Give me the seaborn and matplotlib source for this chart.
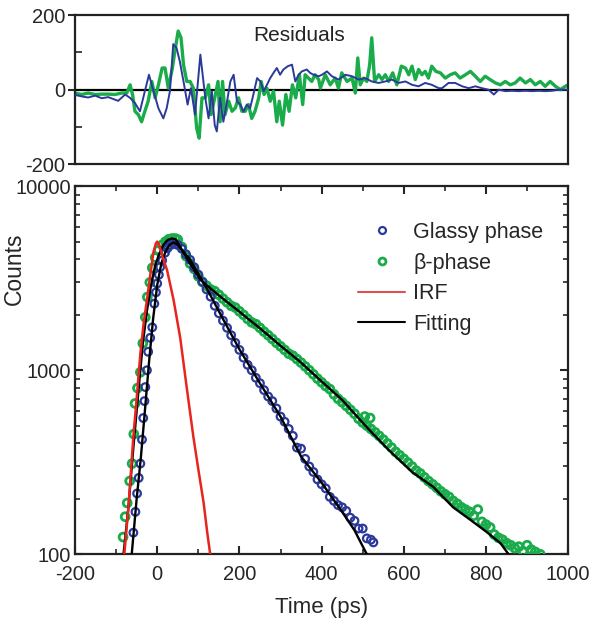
import matplotlib
matplotlib.use("Agg")
import matplotlib.pyplot as plt
from matplotlib.lines import Line2D
import seaborn as sns
import numpy as np
import pandas as pd

# residuals
res_blue_t = [-200, -184, -168, -151, -135, -119, -95, -78, -66, -54, -42, -30, -20, -9, 3, 15, 23, 31,
              39, 47, 55, 64, 74, 82, 92, 105, 117, 125, 133, 140, 145, 153, 161, 170, 178, 186, 194,
              202, 210, 218, 226, 234, 243, 251, 259, 267, 275, 283, 291, 299, 307, 318, 328, 336,
              344, 352, 364, 372, 380, 393, 401, 413, 425, 441, 458, 474, 490, 506, 522, 539, 555,
              571, 587, 604, 620, 636, 652, 668, 685, 693, 709, 725, 742, 758, 774, 790, 806, 819,
              831, 847, 863, 879, 896, 912, 928, 944, 960, 977, 1000]
res_blue = [-14, -18, -21, -16, -23, -20, -30, -13, -22, -36, -58, -4, 40, -4, -50, -77, -50, -4,
            122, 112, 76, 22, -40, 4, -67, 94, -22, -77, -4, -95, -112, -22, -86, -31, 22, 40, -31,
            -40, -58, -40, -50, -13, 31, 22, -4, 13, 31, 45, 58, 40, 54, 63, 67, 22,
            40, 49, 54, 45, 40, 36, 40, 49, 36, 27, 40, 36, 27, 31, 22, 18, 22,
            27, 18, 22, 13, 9, 18, 13, 4, 4, 18, 18, 9, 4, 9, 4, 0, -13,
            0, -4, -3, -4, -3, -4, -3, -4, -3, 0, 0]

res_green_t = [-200, -184, -168, -151, -135, -119, -103, -86, -74, -66, -60, -54, -46, -38, -30, -22,
               -13, -5, 3, 12, 19, 27, 37, 43, 51, 58, 64, 72, 80, 88, 96, 102, 109, 117, 125, 131,
               140, 148, 153, 159, 165, 174, 182, 190, 198, 206, 214, 222, 230, 238, 247, 253, 260,
               267, 275, 283, 291, 297, 305, 313, 321, 329, 337, 346, 354, 360, 368, 376, 384, 393,
               397, 409, 421, 433, 441, 449, 462, 474, 482, 488, 494, 502, 510, 517, 522, 529, 539,
               547, 555, 563, 573, 583, 594, 604, 612, 620, 628, 636, 644, 652, 660, 668, 678, 689,
               701, 713, 725, 737, 750, 762, 774, 786, 798, 810, 823, 835, 847, 859, 871, 883, 896,
               908, 920, 932, 944, 956, 969, 981, 993, 1000]
res_green = [-9, -13, -9, -13, -12, -12, -13, -9, -9, 13, -13, -58, -67, -86, -58, -31,
             22, -22, 13, 58, 58, 4, 58, 103, 157, 139, 67, 22, 22, 4, -103, -130, -22, -22, 13, -67,
             -22, 22, -86, 22, -67, -31, -58, -49, -22, -58, -58, -40, -77, -58, -22, 22, -13,
             4, -31, -4, -86, -31, -95, -13, -58, 13, -22, 40, -40, 40, 31, 22, 40, 27,
             4, 40, 13, 31, 4, 45, 22, 31, -9, 85, 13, 31, 22, 67, 139, 22, 40,
             27, 40, 22, 45, 13, 63, 58, 40, 63, 27, 54, 40, 49, 31, 63, 49, 45,
             31, 40, 45, 31, 40, 49, 36, 22, 36, 27, 18, 13, 22, 13, 18, 31, 18,
             27, 13, 22, 9, 22, 9, 0, 9, 13]

# decay data (bottom panel)
glassy_t = [-58, -53, -49, -45, -41, -37, -34, -31, -29, -25, -22, -17, -12, -7, -3, 0, 4, 7, 12, 19,
            25, 32, 38, 44, 50, 60, 70, 80, 90, 100, 110, 120, 130, 140, 150, 160, 170, 180, 190,
            200, 210, 220, 230, 240, 250, 260, 270, 280, 290, 300, 310, 320, 330, 340, 350, 360,
            370, 380, 390, 400, 410, 420, 430, 440, 450, 460, 470, 480, 490, 500, 510, 520, 526]
glassy = [131, 170, 214, 260, 311, 420, 550, 680, 810, 1000, 1260, 1500, 1710, 2300, 2650, 2960, 3300,
          3630, 3950, 4350, 4600, 4780, 4900, 4850, 4790, 4570, 4270, 3980, 3630, 3310, 3020, 2750,
          2510, 2240, 2040, 1860, 1700, 1550, 1410, 1290, 1170, 1070, 1000, 910, 850, 780, 720, 680,
          620, 560, 525, 480, 440, 380, 375, 330, 300, 280, 255, 240, 228, 205, 195, 185, 180, 172,
          158, 152, 138, 138, 122, 120, 116]

beta_t = [-83, -78, -73, -67, -61, -57, -54, -48, -41, -35, -29, -24, -18, -12, -5, 3, 12, 20, 28, 36,
          44, 50, 60, 70, 80, 90, 100, 110, 120, 130, 140, 150, 160, 170, 180, 190, 200, 210, 220,
          230, 240, 250, 260, 270, 280, 290, 300, 310, 320, 330, 340, 350, 360, 370, 380, 390, 400,
          410, 420, 430, 440, 450, 460, 470, 480, 490, 500, 505, 510, 518, 520, 530, 540, 550, 560,
          570, 580, 590, 600, 610, 620, 630, 640, 650, 660, 670, 680, 690, 700, 710, 720, 730, 740,
          750, 760, 770, 780, 790, 800, 810, 820, 830, 840, 850, 860, 870, 880, 890, 900, 910, 920,
          932]
beta = [124, 160, 190, 250, 311, 450, 660, 800, 975, 1400, 1940, 2500, 3000, 3600, 4100, 4500, 4800,
        5000, 5150, 5200, 5200, 5130, 4680, 4170, 3800, 3550, 3240, 3020, 2880, 2750, 2690, 2570,
        2450, 2340, 2240, 2190, 2090, 2000, 1900, 1820, 1780, 1700, 1620, 1550, 1480, 1410, 1350,
        1290, 1230, 1200, 1150, 1100, 1050, 1000, 950, 900, 860, 820, 790, 740, 700, 670, 640, 610,
        580, 545, 520, 560, 500, 550, 480, 460, 440, 420, 400, 380, 360, 345, 330, 315, 300, 285,
        275, 262, 250, 240, 230, 220, 212, 205, 195, 188, 180, 175, 170, 162, 175, 150, 145, 140,
        128, 123, 120, 115, 112, 108, 110, 104, 112, 106, 103, 100]

irf_t = [-85, -80, -70, -58, -50, -41, -33, -24, -16, -9, -3, 0, 5, 12, 24, 40, 56, 72, 88, 100, 113,
         122, 129, 135]
irf = [85, 100, 180, 437, 700, 1230, 1800, 2500, 3400, 4400, 4900, 5000, 4800, 4200, 3500, 2400, 1500,
       800, 435, 290, 190, 130, 100, 85]

fit_glassy_t = [-66, -62, -50, -40, -30, -20, -10, 0, 10, 20, 30, 40, 50, 80, 120, 160, 200, 250, 300,
                350, 400, 450, 480, 510, 520]
fit_glassy = [85, 100, 200, 330, 600, 1100, 1900, 2900, 3800, 4400, 4800, 4950, 4800, 4000, 2800,
              1900, 1300, 850, 560, 340, 245, 170, 135, 100, 92]

fit_beta_t = [-88, -82, -70, -58, -45, -35, -25, -15, -5, 5, 15, 25, 35, 45, 60, 80, 105, 150, 200,
              250, 300, 348, 400, 450, 510, 560, 620, 672, 720, 760, 800, 835, 855, 865]
fit_beta = [85, 100, 180, 380, 800, 1400, 2100, 2900, 3700, 4300, 4800, 5100, 5200, 5150, 4500, 3800,
            3100, 2550, 2080, 1690, 1360, 1110, 870, 690, 490, 375, 280, 232, 180, 155, 133, 115, 100, 93]

blue = "#2b3a9a"
green = "#1aab4a"
red = "#e8241f"

sns.set_style("ticks")
plt.rcParams['font.family'] = ['Liberation Sans', 'DejaVu Sans']
plt.rcParams['font.size'] = 14.5
plt.rcParams['axes.unicode_minus'] = False

fig = plt.figure(figsize=(6, 6.27), dpi=100)
ax1 = fig.add_axes([0.125, 0.738, 0.822, 0.238])
ax2 = fig.add_axes([0.125, 0.116, 0.822, 0.587])

# residuals
ax1.axhline(0, color="black", lw=1.6, zorder=1)
sns.lineplot(x=res_blue_t, y=res_blue, ax=ax1, color=blue, lw=1.4, zorder=3, sort=False)
sns.lineplot(x=res_green_t, y=res_green, ax=ax1, color=green, lw=2.4, zorder=2, sort=False)
ax1.set_xlim(-200, 1000)
ax1.set_ylim(-200, 200)
ax1.set_yticks([-200, 0, 200])
ax1.set_yticks([-100, 100], minor=True)
ax1.set_xticks([])
ax1.tick_params(axis='y', which='major', direction='out', length=5, width=1.5, labelsize=14.5, pad=2)
ax1.tick_params(axis='y', which='minor', direction='in', length=5, width=1.2)
ax1.text(0.455, 0.86, "Residuals", transform=ax1.transAxes, ha="center", va="center", fontsize=15,
         color="#222222")

# decays
sns.scatterplot(x=beta_t, y=beta, ax=ax2, marker="o", s=32, color=green, edgecolor=green,
                facecolor="none", linewidth=2.0, zorder=3)
sns.scatterplot(x=glassy_t, y=glassy, ax=ax2, marker="o", s=30, color=blue, edgecolor=blue,
                facecolor="none", linewidth=1.6, zorder=4)
sns.lineplot(x=fit_beta_t, y=fit_beta, ax=ax2, color="black", lw=1.7, zorder=5, sort=False)
sns.lineplot(x=fit_glassy_t, y=fit_glassy, ax=ax2, color="black", lw=1.7, zorder=5, sort=False)
sns.lineplot(x=irf_t, y=irf, ax=ax2, color=red, lw=1.8, zorder=6, sort=False)
ax2.set_yscale("log")
ax2.set_xlim(-200, 1000)
ax2.set_ylim(100, 10000)
ax2.set_xticks([-200, 0, 200, 400, 600, 800, 1000])
ax2.set_xticks([-100, 100, 300, 500, 700, 900], minor=True)
ax2.set_yticks([100, 1000, 10000])
ax2.set_yticklabels(["100", "1000", "10000"])
ax2.tick_params(which='major', direction='in', length=6, width=1.5, top=True, right=True,
                labelsize=14.5)
ax2.tick_params(axis='x', which='major', pad=8)
ax2.tick_params(axis='y', which='major', pad=3)
ax2.tick_params(which='minor', direction='in', length=3.5, width=1.2, top=True, right=True)
ax2.tick_params(axis='y', which='minor', labelleft=False)
ax2.set_xlabel("Time (ps)", fontsize=16, labelpad=9)
ax2.set_ylabel("Counts", fontsize=16.5)
ax2.yaxis.set_label_coords(-0.099, 0.777)

for a in (ax1, ax2):
    for s in a.spines.values():
        s.set_linewidth(1.6)
        s.set_color("#222222")

handles = [
    Line2D([], [], ls="none", marker="o", ms=5, mfc="none", mec=blue, mew=1.6),
    Line2D([], [], ls="none", marker="o", ms=5, mfc="none", mec=green, mew=2.0),
    Line2D([], [], color="#d9534f", lw=1.5),
    Line2D([], [], color="black", lw=1.5),
]
ax2.legend(handles, ["Glassy phase", "β-phase", "IRF", "Fitting"], loc="upper left",
           bbox_to_anchor=(0.574, 0.903), frameon=False, fontsize=15.5, handlelength=2.2,
           handletextpad=0.37, labelspacing=0.45, borderpad=0, borderaxespad=0, numpoints=1)

fig.savefig("out.png", dpi=100)
